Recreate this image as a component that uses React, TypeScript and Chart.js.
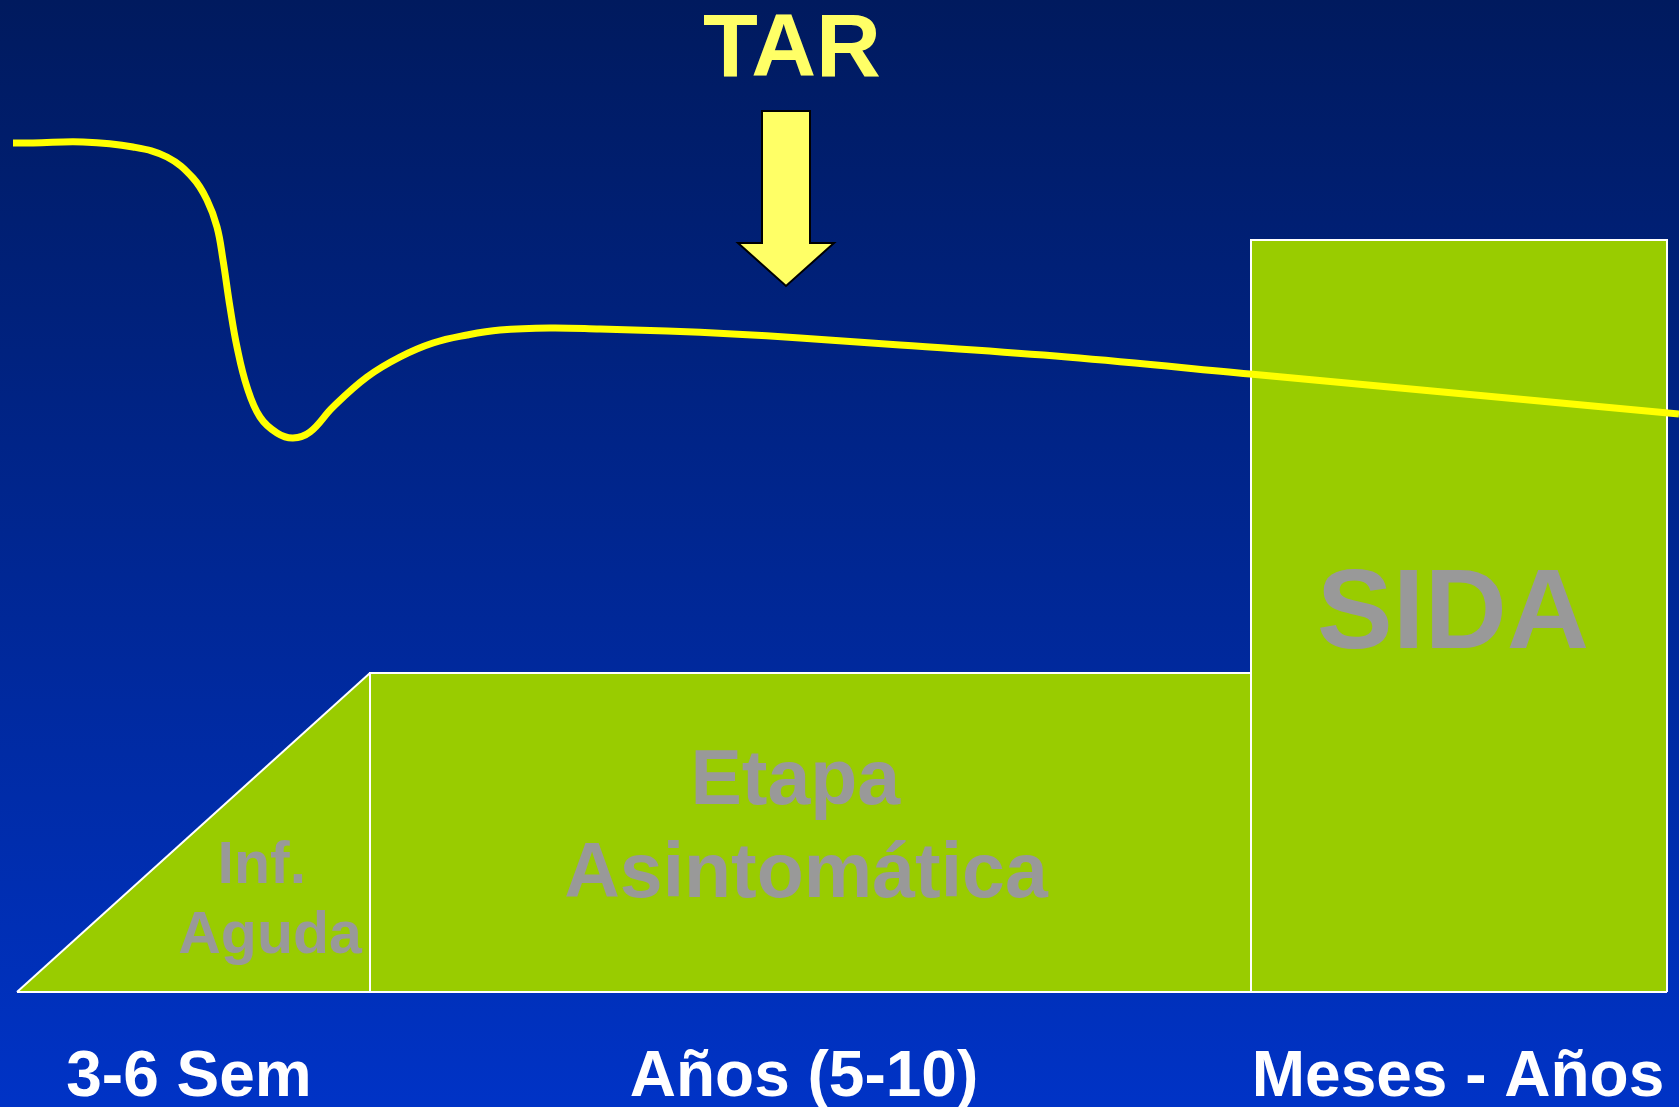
import React, { useEffect, useRef } from 'react';
import { Chart, registerables } from 'chart.js';

Chart.register(...registerables);

const FONT = '"Liberation Sans", Arial, Helvetica, sans-serif';

// ---- Data (timeline units horizontally, height units above the baseline) ----
const stageNames = ['Inf. Aguda', 'Etapa Asintomática', 'SIDA'];
const stageStart = [17, 370, 1251];
const stageEnd = [370, 1251, 1667];
const stageHeight = [319, 319, 752];

const periodLabels = ['3-6 Sem', 'Años (5-10)', 'Meses - Años'];
const periodTickX = [189, 804, 1458];

// CD4 curve
const cd4X = [13, 33, 83, 133, 167, 193, 207, 217, 223, 230, 237, 247, 260, 277, 293, 310, 333, 367, 400, 433, 467, 500, 550, 600, 667, 733, 800, 900, 1067, 1250, 1400, 1679];
const cd4Y = [849, 849, 850, 845, 835, 814, 792, 765, 732, 685, 645, 605, 575, 559, 554, 560, 585, 615, 635, 649, 657, 662, 664, 663, 661, 658, 654, 647, 635, 618, 604, 578];

// TAR marker
const tarLabel = 'TAR';
const tarX = 786;
const tarLabelY = 916;
const tarArrowTop = 881;
const tarArrowTip = 706;

// Stage labels inside the shapes
const stageLabelLines = [['Inf. ', 'Aguda'], ['Etapa ', 'Asintomática'], ['SIDA']];
const stageLabelX = [270, 806, 1453];
const stageLabelY = [[109, 39], [188, 95], [344]];

// ---- Styles ----
const GREEN = '#99cc00';
const LABEL_GRAY = '#999999';
const stageLabelSize = [59, 77, 114];
const stageLabelScaleX = [1, 1, 1];

const bgPlugin = {
  id: 'bgGradient',
  beforeDraw(chart: any) {
    const { ctx, width, height } = chart;
    const g = ctx.createLinearGradient(0, 0, 0, height);
    g.addColorStop(0, '#001a5e');
    g.addColorStop(1, '#0033c6');
    ctx.save();
    ctx.fillStyle = g;
    ctx.fillRect(0, 0, width, height);
    ctx.restore();
  },
};

function drawText(ctx: CanvasRenderingContext2D, str: string, px: number, py: number, size: number, color: string, sx: number) {
  ctx.save();
  ctx.translate(px, py);
  ctx.scale(sx, 1);
  ctx.font = `bold ${size}px ${FONT}`;
  ctx.fillStyle = color;
  ctx.textAlign = 'center';
  ctx.textBaseline = 'alphabetic';
  ctx.fillText(str, 0, 0);
  ctx.restore();
}

const annotationPlugin = {
  id: 'annotations',
  afterDatasetsDraw(chart: any) {
    const { ctx } = chart;
    const xs = chart.scales.x;
    const ys = chart.scales.y;

    stageLabelLines.forEach((lines, i) => {
      lines.forEach((line, j) => {
        drawText(ctx, line, xs.getPixelForValue(stageLabelX[i]), ys.getPixelForValue(stageLabelY[i][j]), stageLabelSize[i], LABEL_GRAY, stageLabelScaleX[i]);
      });
    });

    // TAR label
    const cx = xs.getPixelForValue(tarX);
    drawText(ctx, tarLabel, cx + 6, ys.getPixelForValue(tarLabelY), 89, '#ffff66', 1.01);

    // Arrow
    const top = ys.getPixelForValue(tarArrowTop);
    const tip = ys.getPixelForValue(tarArrowTip);
    const headLen = 43;
    const shaftHalf = 24;
    const headHalf = 48;
    ctx.save();
    ctx.beginPath();
    ctx.moveTo(cx - shaftHalf, top);
    ctx.lineTo(cx + shaftHalf, top);
    ctx.lineTo(cx + shaftHalf, tip - headLen);
    ctx.lineTo(cx + headHalf, tip - headLen);
    ctx.lineTo(cx, tip);
    ctx.lineTo(cx - headHalf, tip - headLen);
    ctx.lineTo(cx - shaftHalf, tip - headLen);
    ctx.closePath();
    ctx.fillStyle = '#ffff66';
    ctx.fill();
    ctx.lineWidth = 2;
    ctx.strokeStyle = '#000000';
    ctx.lineJoin = 'miter';
    ctx.stroke();
    ctx.restore();
  },
};

export default function App() {
  const ref = useRef<HTMLCanvasElement>(null);

  useEffect(() => {
    const shape = {
      backgroundColor: GREEN,
      borderColor: '#ffffff',
      borderWidth: 2,
      pointRadius: 0,
      tension: 0,
      fill: 'origin',
      borderJoinStyle: 'miter' as const,
    };

    const chart = new Chart(ref.current as HTMLCanvasElement, {
      type: 'line',
      data: {
        datasets: [
          {
            label: 'CD4',
            data: cd4X.map((x, i) => ({ x, y: cd4Y[i] })),
            borderColor: '#ffff00',
            borderWidth: 7,
            pointRadius: 0,
            fill: false,
            tension: 0.4,
            borderCapStyle: 'butt',
            order: 0,
          },
          {
            label: 'baseline',
            data: [
              { x: stageStart[0], y: 0 },
              { x: stageEnd[2], y: 0 },
            ],
            borderColor: '#ffffff',
            borderWidth: 2,
            pointRadius: 0,
            fill: false,
            order: 1,
          },
          {
            ...shape,
            label: stageNames[2],
            data: [
              { x: stageStart[2], y: 0 },
              { x: stageStart[2], y: stageHeight[2] },
              { x: stageEnd[2], y: stageHeight[2] },
              { x: stageEnd[2], y: 0 },
            ],
            order: 2,
          },
          {
            ...shape,
            label: stageNames[1],
            data: [
              { x: stageStart[1], y: 0 },
              { x: stageStart[1], y: stageHeight[1] },
              { x: stageEnd[1], y: stageHeight[1] },
              { x: stageEnd[1], y: 0 },
            ],
            order: 3,
          },
          {
            ...shape,
            label: stageNames[0],
            data: [
              { x: stageStart[0], y: 0 },
              { x: stageEnd[0], y: stageHeight[0] },
            ],
            order: 4,
          },
        ] as any,
      },
      options: {
        animation: false,
        responsive: false,
        devicePixelRatio: 1,
        events: [],
        layout: { padding: 0 },
        plugins: {
          legend: { display: false },
          tooltip: { enabled: false },
          title: { display: false },
        },
        scales: {
          x: {
            type: 'linear',
            min: 0,
            max: 1679,
            position: { y: 0 } as any,
            grid: {
              display: true,
              drawOnChartArea: false,
              drawTicks: true,
              tickLength: 48,
              color: 'rgba(0,0,0,0)',
              tickColor: 'rgba(0,0,0,0)',
            },
            border: { display: false },
            afterBuildTicks: (scale: any) => {
              scale.ticks = periodTickX.map((v) => ({ value: v }));
            },
            ticks: {
              autoSkip: false,
              maxRotation: 0,
              minRotation: 0,
              padding: 0,
              color: '#ffffff',
              font: { family: FONT, size: 64, weight: 'bold' },
              callback: (_v: any, i: number) => periodLabels[i],
            },
          },
          y: {
            type: 'linear',
            min: -115,
            max: 992,
            display: false,
          },
        },
      },
      plugins: [bgPlugin, annotationPlugin],
    });

    return () => chart.destroy();
  }, []);

  return (
    <div style={{ position: 'fixed', left: 0, top: 0, width: 1679, height: 1107 }}>
      <canvas ref={ref} width={1679} height={1107} style={{ display: 'block' }} />
    </div>
  );
}
